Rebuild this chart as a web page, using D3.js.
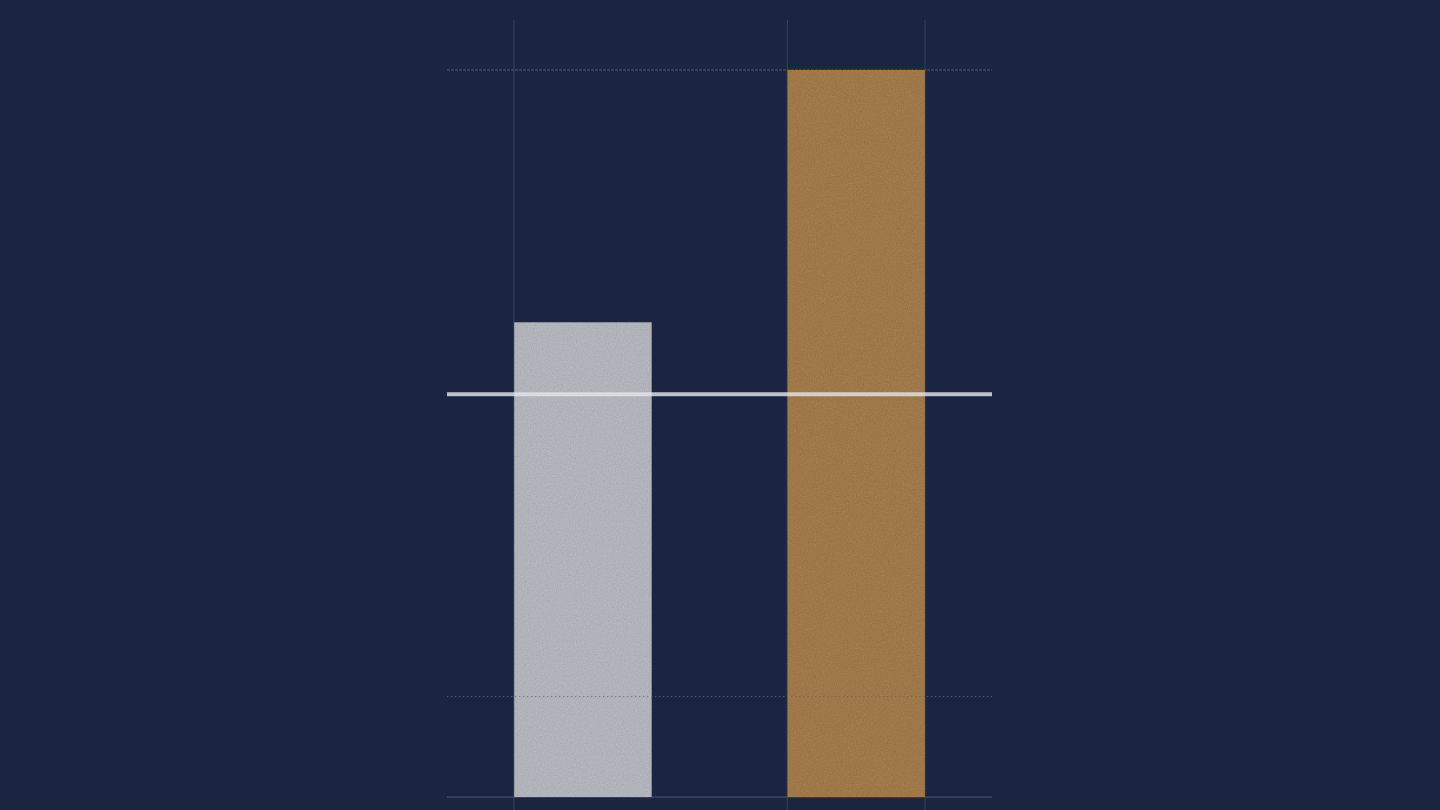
<!DOCTYPE html>
<html>
<head>
<meta charset="utf-8">
<script src="https://cdn.jsdelivr.net/npm/d3@7"></script>
<style>
html,body{margin:0;padding:0;background:#1b2440;}
svg{display:block;}
</style>
</head>
<body>
<script>
const categories = ["A", "B"];
const values = [65.3, 100];
const averageValue = 55.4;
const gridValues = [13.8, 100];
const barColors = ["#b0b4ba", "#9e7849"];

const W = 1440, H = 810;
const svg = d3.select("body").append("svg").attr("width", W).attr("height", H);

const defs = svg.append("defs");
const f = defs.append("filter").attr("id","grain").attr("x",0).attr("y",0).attr("width","100%").attr("height","100%")
  .attr("color-interpolation-filters","sRGB");
f.append("feTurbulence").attr("type","fractalNoise").attr("baseFrequency",0.85).attr("numOctaves",2).attr("seed",5).attr("result","n");
f.append("feColorMatrix").attr("in","n").attr("type","matrix")
 .attr("values","0.33 0.33 0.33 0 0  0.33 0.33 0.33 0 0  0.33 0.33 0.33 0 0  0 0 0 0 1").attr("result","g");
f.append("feComposite").attr("in","SourceGraphic").attr("in2","g").attr("operator","arithmetic")
 .attr("k1",0).attr("k2",1).attr("k3",0.14).attr("k4",-0.07);

svg.append("rect").attr("width",W).attr("height",H).attr("fill","#1b2440");

const x = d3.scaleBand().domain(categories).range([447, 992]).paddingInner(0.496).paddingOuter(0.245);
const y = d3.scaleLinear().domain([0, 100]).range([797, 70]);

const gridColor = "#4a5877";
const [x0, x1] = x.range();

// horizontal grid (top + baseline)
svg.append("line").attr("x1",x0).attr("x2",x1).attr("y1",y(gridValues[1])).attr("y2",y(gridValues[1]))
  .attr("stroke", gridColor).attr("stroke-width",1).attr("stroke-dasharray","3,1");
svg.append("line").attr("x1",x0).attr("x2",x1).attr("y1",y(0)).attr("y2",y(0))
  .attr("stroke", gridColor).attr("stroke-width",1);

// bars
svg.append("g").selectAll("rect").data(values).enter().append("rect")
  .attr("x", (d,i)=>x(categories[i]))
  .attr("y", d=>y(d))
  .attr("width", x.bandwidth())
  .attr("height", d=>y(0)-y(d))
  .attr("fill", (d,i)=>barColors[i])
  .attr("filter","url(#grain)");

// vertical guide lines
const vx = [x(categories[0]), x(categories[1]), x(categories[1]) + x.bandwidth()];
svg.append("g").selectAll("line").data(vx).enter().append("line")
  .attr("x1", d=>d).attr("x2", d=>d).attr("y1", 20).attr("y2", H)
  .attr("stroke", gridColor).attr("stroke-width", 1).attr("opacity", 0.6);

// dotted reference line drawn over bars
svg.append("line").attr("x1",x0).attr("x2",x1).attr("y1",y(gridValues[0])).attr("y2",y(gridValues[0]))
  .attr("stroke", "#5a6890").attr("stroke-width",1).attr("stroke-dasharray","1.5,2.5").attr("opacity",0.8);

// average line
svg.append("line").attr("x1",x0).attr("x2",x1).attr("y1",y(averageValue)).attr("y2",y(averageValue))
  .attr("stroke","#e2e4e6").attr("stroke-width",4).attr("opacity",0.82);
</script>
</body>
</html>
